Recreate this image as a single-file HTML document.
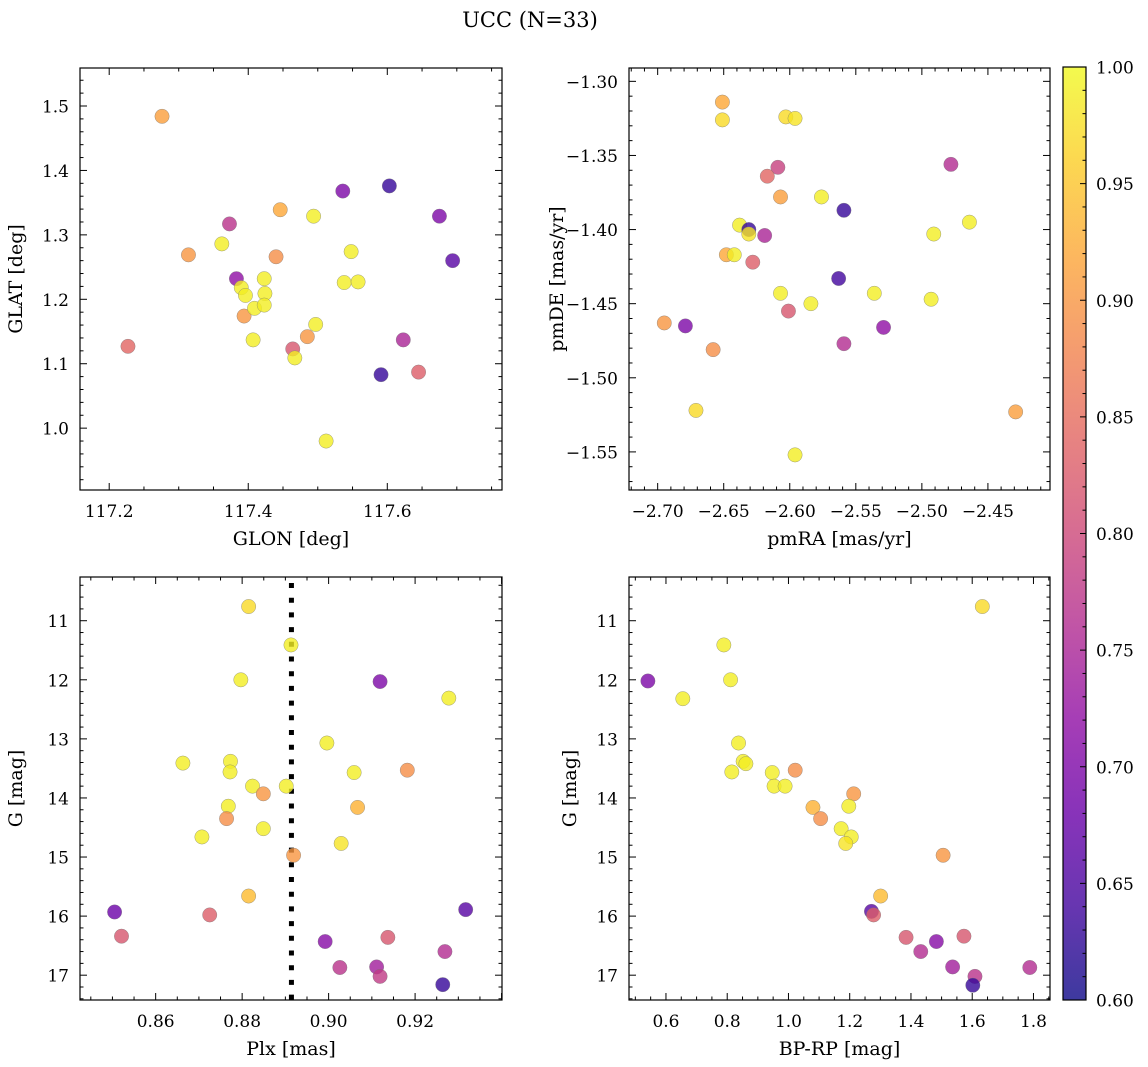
<!DOCTYPE html>
<html><head><meta charset="utf-8">
<style>
html,body{margin:0;padding:0;background:#fff;}
svg{display:block;font-family:"DejaVu Serif","Liberation Serif",serif;}
</style></head>
<body>
<svg id="fig" width="1148" height="1067" viewBox="0 0 1148 1067" xmlns="http://www.w3.org/2000/svg">
<text x="530" y="27" font-size="21" text-anchor="middle">UCC (N=33)</text>
</svg>
<script>
// Panel 1: GLON vs GLAT
const glon1 = [117.276,117.314,117.227,117.373,117.362,117.383,117.390,117.396,117.394,117.409,117.407,117.423,117.424,117.423,117.446,117.440,117.464,117.467,117.485,117.494,117.497,117.512,117.536,117.538,117.548,117.558,117.603,117.591,117.623,117.645,117.675,117.694];
const glat1 = [1.484,1.269,1.127,1.317,1.286,1.232,1.218,1.206,1.174,1.186,1.137,1.232,1.209,1.191,1.339,1.266,1.123,1.109,1.142,1.329,1.161,0.980,1.368,1.226,1.274,1.227,1.376,1.083,1.137,1.087,1.329,1.260];
const prob1 = [0.91,0.90,0.84,0.77,0.99,0.72,0.99,0.99,0.90,0.99,0.99,0.99,0.99,0.99,0.92,0.89,0.82,0.99,0.90,0.99,0.99,0.99,0.70,0.99,0.99,0.99,0.63,0.63,0.75,0.83,0.70,0.66];
// Panel 2: pmRA vs pmDE
const pmra2 = [-2.651,-2.651,-2.603,-2.596,-2.609,-2.617,-2.607,-2.576,-2.559,-2.478,-2.464,-2.491,-2.638,-2.631,-2.631,-2.619,-2.648,-2.642,-2.628,-2.563,-2.607,-2.584,-2.601,-2.536,-2.493,-2.695,-2.679,-2.658,-2.559,-2.529,-2.671,-2.596,-2.429];
const pmde2 = [-1.314,-1.326,-1.324,-1.325,-1.358,-1.364,-1.378,-1.378,-1.387,-1.356,-1.395,-1.403,-1.397,-1.400,-1.403,-1.404,-1.417,-1.417,-1.422,-1.433,-1.443,-1.450,-1.455,-1.443,-1.447,-1.463,-1.465,-1.481,-1.477,-1.466,-1.522,-1.552,-1.523];
const prob2 = [0.92,0.97,0.97,0.98,0.79,0.84,0.91,0.99,0.63,0.76,0.99,0.99,0.99,0.63,0.98,0.75,0.92,0.99,0.83,0.64,0.99,0.99,0.82,0.99,0.99,0.90,0.70,0.89,0.76,0.72,0.97,0.99,0.91];
// Panel 3: Plx vs G
const plx3 = [0.8815,0.8913,0.8797,0.9119,0.9278,0.8996,0.8663,0.8773,0.8772,0.9059,0.9182,0.8824,0.8902,0.8849,0.8768,0.9067,0.8764,0.8849,0.8707,0.9029,0.8919,0.8815,0.8505,0.8725,0.8521,0.9317,0.8992,0.9137,0.9269,0.9026,0.9111,0.9119,0.9264];
const g3 = [10.76,11.41,12.00,12.03,12.31,13.07,13.41,13.38,13.56,13.57,13.53,13.80,13.80,13.93,14.14,14.16,14.35,14.52,14.66,14.77,14.97,15.66,15.93,15.98,16.34,15.89,16.43,16.36,16.60,16.87,16.86,17.02,17.16];
const prob3 = [0.97,0.99,0.99,0.70,0.99,0.99,0.99,0.99,0.99,0.99,0.89,0.99,0.99,0.90,0.99,0.93,0.89,0.99,0.99,0.98,0.90,0.94,0.68,0.83,0.82,0.66,0.71,0.82,0.76,0.77,0.74,0.78,0.63];
const plxLine = 0.8914;
// Panel 4: BP-RP vs G
const bprp4 = [0.541,0.655,0.789,0.811,1.633,0.837,0.852,0.861,0.815,0.947,0.953,0.989,1.022,1.213,1.080,1.197,1.105,1.172,1.205,1.187,1.505,1.301,1.271,1.278,1.384,1.432,1.483,1.573,1.536,1.788,1.609,1.602];
const g4 = [12.02,12.32,11.41,12.00,10.76,13.07,13.38,13.42,13.56,13.57,13.80,13.80,13.53,13.93,14.16,14.14,14.35,14.52,14.66,14.77,14.97,15.66,15.92,15.98,16.36,16.60,16.43,16.34,16.86,16.87,17.02,17.17];
const prob4 = [0.70,0.99,0.99,0.99,0.97,0.99,0.99,0.99,0.99,0.99,0.99,0.99,0.89,0.90,0.93,0.99,0.89,0.99,0.99,0.98,0.90,0.94,0.66,0.83,0.82,0.76,0.71,0.82,0.74,0.76,0.77,0.63];
// Tick labels
const ticks1x = [117.2,117.4,117.6];
const ticks1y = [1.0,1.1,1.2,1.3,1.4,1.5];
const ticks2x = [-2.70,-2.65,-2.60,-2.55,-2.50,-2.45];
const ticks2y = [-1.30,-1.35,-1.40,-1.45,-1.50,-1.55];
const ticks3x = [0.86,0.88,0.90,0.92];
const ticksGy = [11,12,13,14,15,16,17];
const ticks4x = [0.6,0.8,1.0,1.2,1.4,1.6,1.8];
const cbTicks = [0.60,0.65,0.70,0.75,0.80,0.85,0.90,0.95,1.00];

const NS = "http://www.w3.org/2000/svg";
const svg = document.getElementById('fig');
const plasma = [[13,8,135],[65,4,157],[106,0,168],[143,13,164],[177,42,144],[204,71,120],[225,100,98],[242,132,75],[252,166,54],[252,206,37],[240,249,33]];
function cmap(v){
  let t = (v-0.6)/0.4; t = Math.max(0,Math.min(1,t));
  const f = t*10, i = Math.min(9,Math.floor(f)), r = f-i;
  const a = plasma[i], b = plasma[i+1];
  return 'rgb(' + [0,1,2].map(k=>Math.round(a[k]+(b[k]-a[k])*r)).join(',') + ')';
}
function mk(tag, attrs, parent){
  const e = document.createElementNS(NS, tag);
  for (const k in attrs) e.setAttribute(k, attrs[k]);
  (parent||svg).appendChild(e);
  return e;
}
function fmt(v, d){ const s = v.toFixed(d); return s.replace('-', '\u2212'); }
const TF = 17, LF = 19;

function panel(o){
  const g = mk('g', {});
  
  
  const sx = v => o.L + (v-o.x0)/(o.x1-o.x0)*(o.R-o.L);
  const sy = o.invY ? (v => o.T + (v-o.y0)/(o.y1-o.y0)*(o.B-o.T)) : (v => o.B - (v-o.y0)/(o.y1-o.y0)*(o.B-o.T));
  const tg = mk('g', {stroke:'#000','stroke-width':1}, g);
  const xm0 = Math.ceil(o.x0/o.xm - 1e-9), xm1 = Math.floor(o.x1/o.xm + 1e-9);
  for (let k=xm0; k<=xm1; k++){
    const x = sx(k*o.xm);
    const maj = Math.abs(k*o.xm/o.xM - Math.round(k*o.xm/o.xM)) < 1e-6;
    const len = maj ? 7 : 3.5;
    mk('line', {x1:x,x2:x,y1:o.B,y2:o.B-len}, tg);
    mk('line', {x1:x,x2:x,y1:o.T,y2:o.T+len}, tg);
  }
  const ylo = Math.min(o.y0,o.y1), yhi = Math.max(o.y0,o.y1);
  const ym0 = Math.ceil(ylo/o.ym - 1e-9), ym1 = Math.floor(yhi/o.ym + 1e-9);
  for (let k=ym0; k<=ym1; k++){
    const y = sy(k*o.ym);
    const maj = Math.abs(k*o.ym/o.yM - Math.round(k*o.ym/o.yM)) < 1e-6;
    const len = maj ? 7 : 3.5;
    mk('line', {x1:o.L,x2:o.L+len,y1:y,y2:y}, tg);
    mk('line', {x1:o.R,x2:o.R-len,y1:y,y2:y}, tg);
  }
  o.xt.forEach(v=>{
    const t = mk('text', {x:sx(v), y:o.B+27, 'font-size':TF, 'text-anchor':'middle'}, g);
    
    
    t.textContent = fmt(v, o.xd);
  });
  o.yt.forEach(v=>{
    const t = mk('text', {x:o.L-11, y:sy(v)+6.5, 'font-size':TF, 'text-anchor':'end'}, g);
    
    
    t.textContent = fmt(v, o.yd);
  });
  const xl = mk('text', {x:(o.L+o.R)/2, y:o.B+55, 'font-size':LF, 'text-anchor':'middle'}, g);
  
  
  xl.textContent = o.xlab;
  const yc = (o.T+o.B)/2;
  const yl = mk('text', {x:o.ylx, y:yc, 'font-size':LF, 'text-anchor':'middle', transform:'rotate(-90 '+o.ylx+' '+yc+')'}, g);
  
  
  yl.textContent = o.ylab;
  const cid = 'clip-'+o.name;
  const cp = mk('clipPath', {id:cid}, g);
  mk('rect', {x:o.L,y:o.T,width:o.R-o.L,height:o.B-o.T}, cp);
  const pg = mk('g', {'clip-path':'url(#'+cid+')'}, g);
  if (o.vline !== undefined){
    const vx = sx(o.vline);
    const ln = mk('line', {x1:vx,x2:vx,y1:o.T+6,y2:o.B,stroke:'#000','stroke-width':5,'stroke-dasharray':'5 9.7'}, pg);
    
    
  }
  for (let i=0;i<o.xs.length;i++){
    const c = mk('circle', {cx:sx(o.xs[i]), cy:sy(o.ys[i]), r:7.2, fill:cmap(o.cs[i]), 'fill-opacity':0.8, stroke:'#777', 'stroke-width':0.5, 'stroke-opacity':0.7}, pg);
    
    
  }
  mk('rect', {x:o.L,y:o.T,width:o.R-o.L,height:o.B-o.T,fill:'none',stroke:'#000','stroke-width':1.2}, g);
}

panel({name:'glon-glat-panel', L:80,R:502,T:68,B:490, x0:117.158,x1:117.765, y0:0.904,y1:1.559, xM:0.2,xm:0.05, yM:0.1,ym:0.02, xt:ticks1x,yt:ticks1y, xd:1,yd:1, xlab:'GLON [deg]', ylab:'GLAT [deg]', ylx:22, xs:glon1, ys:glat1, cs:prob1});
panel({name:'pmra-pmde-panel', L:629,R:1050,T:68,B:490, x0:-2.7217,x1:-2.403, y0:-1.5757,y1:-1.291, xM:0.05,xm:0.01, yM:0.05,ym:0.01, xt:ticks2x,yt:ticks2y, xd:2,yd:2, xlab:'pmRA [mas/yr]', ylab:'pmDE [mas/yr]', ylx:563, xs:pmra2, ys:pmde2, cs:prob2});
panel({name:'plx-g-panel', L:80,R:502,T:577,B:1000, x0:0.8425,x1:0.9401, y0:10.26,y1:17.42, invY:true, xM:0.02,xm:0.005, yM:1,ym:0.2, xt:ticks3x,yt:ticksGy, xd:2,yd:0, xlab:'Plx [mas]', ylab:'G [mag]', ylx:22, xs:plx3, ys:g3, cs:prob3, vline:plxLine});
panel({name:'bprp-g-panel', L:629,R:1050,T:577,B:1000, x0:0.4793,x1:1.854, y0:10.26,y1:17.42, invY:true, xM:0.2,xm:0.05, yM:1,ym:0.2, xt:ticks4x,yt:ticksGy, xd:1,yd:0, xlab:'BP-RP [mag]', ylab:'G [mag]', ylx:576, xs:bprp4, ys:g4, cs:prob4});

(function(){
  const L=1063,R=1086,T=67,B=1000;
  const cb = mk('g', {});
  
  
  const defs = mk('defs', {}, cb);
  const lg = mk('linearGradient', {id:'cbgrad', x1:0,y1:1,x2:0,y2:0}, defs);
  for (let i=0;i<=20;i++){
    mk('stop', {offset:(i/20), 'stop-color':cmap(0.6+0.4*i/20), 'stop-opacity':0.8}, lg);
  }
  mk('rect', {x:L,y:T,width:R-L,height:B-T,fill:'url(#cbgrad)'}, cb);
  const sy = v => B - (v-0.6)/0.4*(B-T);
  for (let k=60;k<=100;k++){
    const y = sy(k/100);
    const maj = k%5===0;
    mk('line', {x1:R,x2:R-(maj?6:3.5),y1:y,y2:y,stroke:'#000','stroke-width':1}, cb);
  }
  cbTicks.forEach(v=>{
    const t = mk('text', {x:R+10, y:sy(v)+6.5, 'font-size':TF}, cb);
    
    
    t.textContent = v.toFixed(2);
  });
  mk('rect', {x:L,y:T,width:R-L,height:B-T,fill:'none',stroke:'#000','stroke-width':1.2}, cb);
})();
</script>
</body></html>
